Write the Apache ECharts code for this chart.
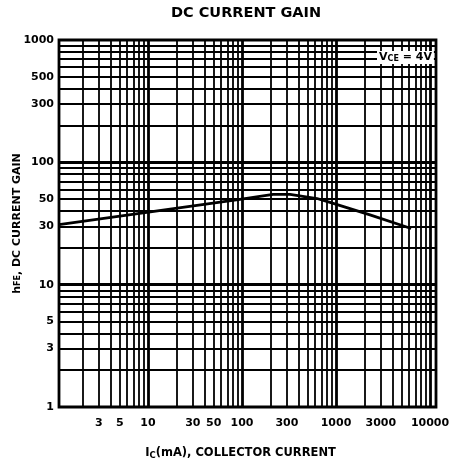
<!DOCTYPE html>
<html><head><meta charset="utf-8">
<script src="https://cdn.jsdelivr.net/npm/echarts@6/dist/echarts.min.js"></script>
<style>html,body{margin:0;padding:0;background:#fff}#c{width:449px;height:466px}</style>
</head><body><div id="c"></div>
<script>
const chartTitle = 'DC CURRENT GAIN';
const xAxisTitle = 'I{sub|C}(mA), COLLECTOR CURRENT';
const yAxisTitle = 'h{sub|FE}, DC CURRENT GAIN';
const conditionText = 'V{sub|CE} = 4V';
const xTickLabels = [3, 5, 10, 30, 50, 100, 300, 1000, 3000, 10000];
const yTickLabels = [1, 3, 5, 10, 30, 50, 100, 300, 500, 1000];
const xGridValues = [2, 3, 4, 5, 6, 7, 8, 9, 10, 20, 30, 40, 50, 60, 70, 80, 90, 100,
  200, 300, 400, 500, 600, 700, 800, 900, 1000, 2000, 3000, 4000, 5000, 6000, 7000, 8000, 9000, 10000];
const yGridValues = [2, 3, 4, 5, 6, 7, 8, 9, 10, 20, 30, 40, 50, 60, 70, 80, 90, 100,
  200, 300, 400, 500, 600, 700, 800, 900];
const icValues = [1.13, 26.6, 95, 214, 324, 628, 863, 2300, 6300];
const hfeValues = [30.9, 43.5, 49.7, 54.8, 54.8, 50.6, 47, 37.2, 28.8];

const FONT = 'DejaVu Sans';
const isDecade = v => Math.abs(Math.log10(v) - Math.round(Math.log10(v))) < 1e-9;
const gridLines = [];
xGridValues.forEach(v => gridLines.push({ xAxis: v, lineStyle: { width: isDecade(v) ? 2.8 : 1.8 } }));
yGridValues.forEach(v => gridLines.push({ yAxis: v, lineStyle: { width: isDecade(v) ? 2.8 : 1.8 } }));

const chart = echarts.init(document.getElementById('c'), null, { renderer: 'canvas' });
chart.setOption({
  animation: false,
  backgroundColor: '#fff',
  title: {
    text: chartTitle, left: 166, top: 1,
    textStyle: { fontFamily: FONT, fontWeight: 'bold', fontSize: 14.5, color: '#000' }
  },
  grid: { left: 59, right: 13, top: 40, bottom: 59, containLabel: false, outerBoundsMode: 'none',
    show: true, borderColor: '#000', borderWidth: 2.8, backgroundColor: 'transparent' },
  xAxis: {
    type: 'log', logBase: 10, min: 1.13, max: 11580,
    name: xAxisTitle, nameLocation: 'middle', nameGap: 40, nameMoveOverlap: false,
    nameTextStyle: { fontFamily: FONT, fontWeight: 'bold', fontSize: 11.5, color: '#000', padding: [0, 14, 0, 0],
      rich: { sub: { fontFamily: FONT, fontWeight: 'bold', fontSize: 8.5, verticalAlign: 'bottom', padding: [4, 0, 0, 0] } } },
    axisLine: { show: false }, axisTick: { show: false }, splitLine: { show: false },
    axisLabel: { customValues: xTickLabels, margin: 11, fontFamily: FONT, fontWeight: 'bold', fontSize: 11, color: '#000',
      formatter: v => String(Math.round(v)) }
  },
  yAxis: {
    type: 'log', logBase: 10, min: 1, max: 1000,
    name: yAxisTitle, nameLocation: 'middle', nameGap: 36, nameRotate: 90, nameMoveOverlap: false,
    nameTextStyle: { fontFamily: FONT, fontWeight: 'bold', fontSize: 11, color: '#000',
      rich: { sub: { fontFamily: FONT, fontWeight: 'bold', fontSize: 8 } } },
    axisLine: { show: false }, axisTick: { show: false }, splitLine: { show: false },
    axisLabel: { customValues: yTickLabels, margin: 5, fontFamily: FONT, fontWeight: 'bold', fontSize: 11, color: '#000',
      formatter: v => String(Math.round(v)) }
  },
  series: [{
    type: 'line',
    data: icValues.map((x, i) => [x, hfeValues[i]]),
    symbol: 'none',
    lineStyle: { color: '#000', width: 2.8 },
    z: 5,
    markLine: {
      silent: true, symbol: 'none', animation: false,
      label: { show: false },
      lineStyle: { color: '#000', type: 'solid', width: 1.8 },
      data: gridLines
    }
  }],
  graphic: [{
    type: 'text', left: 377, top: 51, z: 100,
    style: {
      text: conditionText, fill: '#000', backgroundColor: '#fff', padding: [1, 2, 1, 2],
      font: 'bold 11px "DejaVu Sans"',
      rich: { sub: { fontFamily: FONT, fontWeight: 'bold', fontSize: 8, verticalAlign: 'bottom' } }
    }
  }]
});
</script></body></html>
